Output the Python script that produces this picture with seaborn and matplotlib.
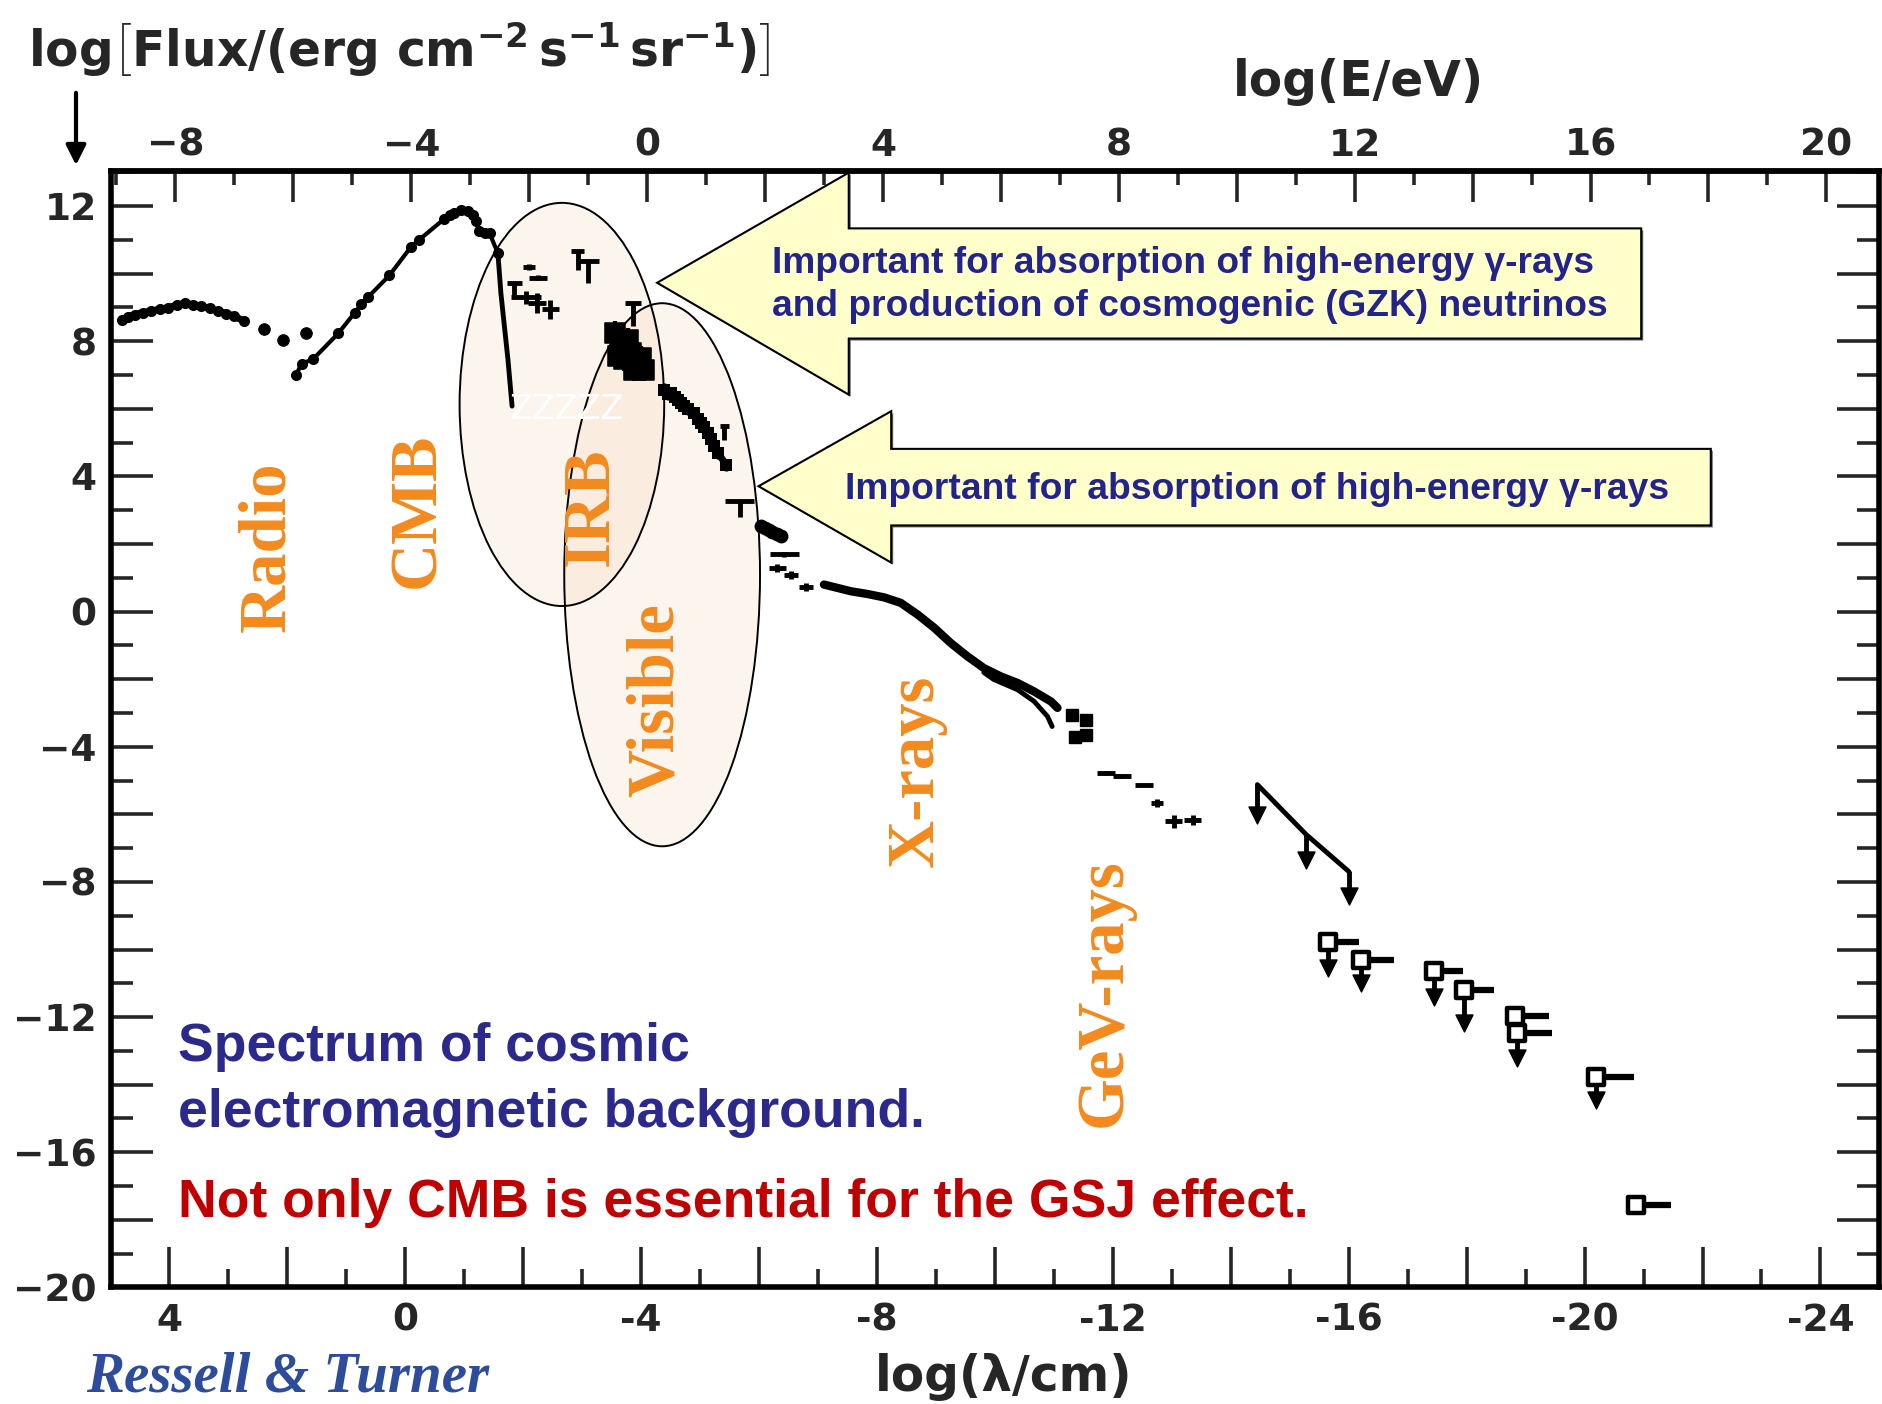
import numpy as np
import matplotlib
matplotlib.use("Agg")
import matplotlib.pyplot as plt
import matplotlib.transforms as mtransforms
from matplotlib.patches import Ellipse, Polygon
from matplotlib.ticker import MultipleLocator, FuncFormatter
import seaborn as sns

# ---------------- data: log10(lambda / cm) vs log10(flux) ----------------
radio_lam = [4.81, 4.70, 4.59, 4.45, 4.31, 4.16, 4.02, 3.88, 3.74, 3.60, 3.46, 3.32, 3.18, 3.04, 2.90, 2.73]
radio_flux = [8.63, 8.72, 8.79, 8.85, 8.89, 8.95, 8.99, 9.07, 9.12, 9.08, 9.04, 8.97, 8.89, 8.82, 8.74, 8.59]
radio_gap_lam = [2.39, 2.08, 1.68]
radio_gap_flux = [8.35, 8.03, 8.25]

cmb_lam = [1.85, 1.76, 1.57, 1.14, 0.86, 0.75, 0.63, 0.27, -0.10, -0.24, -0.66, -0.75,
           -0.83, -0.95, -1.06, -1.15, -1.20, -1.25, -1.35, -1.43, -1.57]
cmb_flux = [7.01, 7.34, 7.46, 8.23, 8.84, 9.09, 9.31, 9.95, 10.80, 11.01, 11.62, 11.75,
            11.80, 11.88, 11.85, 11.75, 11.55, 11.25, 11.20, 11.19, 10.60]
wien_lam = [-1.57, -1.62, -1.68, -1.74, -1.78, -1.81]
wien_flux = [10.60, 9.43, 8.44, 7.46, 6.67, 6.08]

# upper limits drawn as "T": bar at the limit, stem down
lim_lam = [-1.85, -2.92, -3.09, -3.86, -5.41, -5.67]
lim_top = [9.73, 10.67, 10.37, 9.14, 5.48, 3.26]
lim_bot = [9.33, 10.12, 9.73, 8.44, 5.09, 2.80]
lim_hw = [0.13, 0.11, 0.20, 0.14, 0.08, 0.25]

irb_lam = [-2.10, -2.25, -2.05, -2.23, -2.46]
irb_flux = [10.20, 9.88, 9.30, 9.14, 8.95]
irb_xerr = [0.10, 0.15, 0.25, 0.15, 0.15]
irb_yerr = [0.10, 0.08, 0.20, 0.30, 0.28]

vis_lam = [-3.55, -3.60, -3.66, -3.71, -3.77, -3.83, -3.88, -3.94, -4.00, -4.05]
vis_flux = [8.25, 7.56, 7.85, 7.46, 8.05, 7.66, 7.16, 7.36, 7.50, 7.16]

uv_lam = [-4.39, -4.45, -4.51, -4.57, -4.62, -4.68, -4.73, -4.80, -4.90, -4.96,
          -5.01, -5.07, -5.13, -5.19, -5.24, -5.30, -5.44]
uv_flux = [6.57, 6.45, 6.47, 6.35, 6.27, 6.18, 6.08, 6.00, 5.88, 5.70,
           5.58, 5.45, 5.29, 5.10, 4.89, 4.70, 4.35]

fuv_lam = [-6.03, -6.10, -6.16, -6.22, -6.30, -6.37]
fuv_flux = [2.53, 2.47, 2.42, 2.36, 2.30, 2.23]

euv_lam = [-6.43, -6.31, -6.54, -6.79]
euv_flux = [1.69, 1.29, 1.09, 0.72]
euv_xerr = [0.25, 0.15, 0.12, 0.12]
euv_yerr = [0.06, 0.12, 0.12, 0.12]

xray_lam = [-7.10, -7.33, -7.56, -7.84, -8.12, -8.40, -8.69, -8.97, -9.25, -9.53,
            -9.81, -10.10, -10.38, -10.66, -10.95, -11.06]
xray_flux = [0.80, 0.70, 0.60, 0.52, 0.42, 0.26, -0.09, -0.48, -0.93, -1.32,
             -1.67, -1.92, -2.11, -2.36, -2.66, -2.85]
xray_low_lam = [-9.81, -9.98, -10.38, -10.66, -10.89, -10.97]
xray_low_flux = [-1.80, -2.01, -2.31, -2.65, -3.10, -3.40]

hx_lam = [-11.30, -11.55, -11.35, -11.55]
hx_flux = [-3.05, -3.20, -3.70, -3.65]

gam_lam = [-11.88, -12.16, -12.53, -12.75, -13.03, -13.35]
gam_flux = [-4.78, -4.86, -5.12, -5.67, -6.21, -6.16]
gam_xerr = [0.15, 0.15, 0.15, 0.10, 0.15, 0.15]
gam_yerr = [0.05, 0.05, 0.00, 0.12, 0.20, 0.15]

gev_lam = [-14.45, -15.28, -16.00]
gev_flux = [-5.12, -6.60, -7.69]
gev_tip = [-6.01, -7.34, -8.43]

sq_lam = [-15.64, -16.21, -17.45, -17.96, -18.82, -18.85, -20.19, -20.87]
sq_flux = [-9.79, -10.30, -10.65, -11.19, -11.98, -12.47, -13.76, -17.56]
sq_tail = [-16.18, -16.77, -17.93, -18.46, -19.39, -19.45, -20.84, -21.47]
sq_tip = [-10.55, -10.99, -11.39, -12.18, np.nan, -13.21, -14.45, np.nan]

# band labels
band_names = ["Radio", "CMB", "IRB", "Visible", "X-rays", "GeV-rays"]
band_lam = [2.33, -0.21, -3.15, -4.25, -8.66, -11.85]
band_flux = [1.93, 3.00, 3.10, -2.63, -4.70, -11.29]

# highlighted regions: centre, width, height
ell_lam = [-2.655, -4.355]
ell_flux = [6.13, 1.09]
ell_w = [3.47, 3.32]
ell_h = [11.93, 16.07]

# ---------------- style ----------------
sns.set_theme(style="ticks")
plt.rcParams["font.family"] = ["DejaVu Sans"]
plt.rcParams["font.weight"] = "bold"
plt.rcParams["mathtext.fontset"] = "custom"
plt.rcParams["mathtext.rm"] = "DejaVu Sans:bold"
plt.rcParams["mathtext.it"] = "DejaVu Sans:bold"
plt.rcParams["mathtext.bf"] = "DejaVu Sans:bold"

INK = "black"
NAVY = "#23238C"
ORANGE = "#F28A1E"
SANS = ["Liberation Sans", "DejaVu Sans"]

fig = plt.figure(figsize=(18.83, 14.04), dpi=100)
ax = fig.add_axes([0.0587, 0.0830, 0.9394, 0.7955])
ax.set_facecolor("white")

# ---------------- highlighted regions ----------------
for cx, cy, w, h in zip(ell_lam, ell_flux, ell_w, ell_h):
    ax.add_patch(Ellipse((cx, cy), w, h, facecolor="#F5D9BA", alpha=0.25,
                         edgecolor="none", zorder=1))
    ax.add_patch(Ellipse((cx, cy), w, h, facecolor="none", edgecolor=INK,
                         lw=1.4, zorder=2))

# ---------------- spectrum ----------------
sns.lineplot(x=radio_lam, y=radio_flux, sort=False, estimator=None, color=INK,
             lw=5, marker="o", markersize=8, markeredgewidth=0, ax=ax, zorder=3)
sns.scatterplot(x=radio_gap_lam, y=radio_gap_flux, s=70, color=INK,
                edgecolor=INK, ax=ax, zorder=3)
sns.lineplot(x=cmb_lam, y=cmb_flux, sort=False, estimator=None, color=INK,
             lw=3, marker="o", markersize=8, markeredgewidth=0, ax=ax, zorder=3)
sns.lineplot(x=wien_lam, y=wien_flux, sort=False, estimator=None, color=INK,
             lw=3.5, ax=ax, zorder=3)

ax.errorbar(lim_lam, lim_top, xerr=lim_hw, fmt="none", ecolor=INK,
            elinewidth=3.5, capsize=0, zorder=3)
ax.vlines(lim_lam, lim_bot, lim_top, color=INK, lw=3.5, zorder=3)

ax.errorbar(irb_lam, irb_flux, xerr=irb_xerr, yerr=irb_yerr, fmt="none",
            ecolor=INK, elinewidth=3.5, capsize=0, zorder=3)

sns.scatterplot(x=vis_lam, y=vis_flux, marker="s", s=200, color=INK,
                edgecolor=INK, ax=ax, zorder=3)
ax.errorbar(vis_lam, vis_flux, yerr=0.35, fmt="none", ecolor=INK,
            elinewidth=3, capsize=0, zorder=3)

sns.lineplot(x=uv_lam, y=uv_flux, sort=False, estimator=None, color=INK,
             lw=5, marker="s", markersize=8, markeredgewidth=0, ax=ax, zorder=3)
ax.errorbar(uv_lam, uv_flux, yerr=0.18, fmt="none", ecolor=INK,
            elinewidth=2.5, capsize=0, zorder=3)

sns.lineplot(x=fuv_lam, y=fuv_flux, sort=False, estimator=None, color=INK,
             lw=7, marker="o", markersize=10, markeredgewidth=0, ax=ax, zorder=3)

ax.errorbar(euv_lam, euv_flux, xerr=euv_xerr, yerr=euv_yerr, fmt="none",
            ecolor=INK, elinewidth=3.5, capsize=0, zorder=3)

sns.lineplot(x=xray_lam, y=xray_flux, sort=False, estimator=None, color=INK,
             lw=6, ax=ax, zorder=3)
sns.lineplot(x=xray_low_lam, y=xray_low_flux, sort=False, estimator=None,
             color=INK, lw=3.5, ax=ax, zorder=3)

ax.errorbar(hx_lam, hx_flux, xerr=0.1, yerr=0.15, fmt="s", color=INK,
            markersize=9, elinewidth=3.5, capsize=0, zorder=3)

ax.errorbar(gam_lam, gam_flux, xerr=gam_xerr, yerr=gam_yerr, fmt="none",
            ecolor=INK, elinewidth=3.5, capsize=0, zorder=3)

# GeV upper-limit envelope with downward arrows
sns.lineplot(x=gev_lam, y=gev_flux, sort=False, estimator=None, color=INK,
             lw=3.5, ax=ax, zorder=3)
ax.vlines(gev_lam, gev_tip, gev_flux, color=INK, lw=3.5, zorder=3)
sns.scatterplot(x=gev_lam, y=gev_tip, marker="v", s=150, color=INK,
                edgecolor=INK, ax=ax, zorder=3)

# high-energy upper limits: open squares, energy band to the right, arrow down
sq_lam_a = np.array(sq_lam)
sq_flux_a = np.array(sq_flux)
sq_tip_a = np.array(sq_tip)
has_tip = ~np.isnan(sq_tip_a)
ax.hlines(sq_flux, sq_lam, sq_tail, color=INK, lw=4.5, zorder=3)
ax.vlines(sq_lam_a[has_tip], sq_tip_a[has_tip], sq_flux_a[has_tip], color=INK,
          lw=3.5, zorder=3)
sns.scatterplot(x=sq_lam_a[has_tip], y=sq_tip_a[has_tip], marker="v", s=150,
                color=INK, edgecolor=INK, ax=ax, zorder=3)
sns.scatterplot(x=sq_lam, y=sq_flux, marker="s", s=140, color="white",
                edgecolor=INK, linewidth=3.2, ax=ax, zorder=4)

# ---------------- axes ----------------
ax.set_xlim(5, -25)
ax.set_ylim(-20, 13.05)
ax.set_xlabel("")
ax.set_ylabel("")


def label_every4(minus):
    def fmt(v, pos):
        iv = int(round(v))
        if iv % 4 != 0:
            return ""
        s = str(iv)
        return s.replace("-", minus)
    return FuncFormatter(fmt)


for a in (ax.xaxis, ax.yaxis):
    a.set_major_locator(MultipleLocator(2))
    a.set_minor_locator(MultipleLocator(1))
ax.xaxis.set_major_formatter(label_every4("-"))
ax.yaxis.set_major_formatter(label_every4("\u2212"))

ax.tick_params(axis="x", which="major", direction="in", length=29, width=2.6,
               pad=11, labelsize=27, bottom=True, top=False)
ax.tick_params(axis="x", which="minor", direction="in", length=13, width=2.6,
               bottom=True, top=False)
ax.tick_params(axis="y", which="major", direction="in", length=30, width=2.6,
               pad=10, labelsize=27, left=True, right=True)
ax.tick_params(axis="y", which="minor", direction="in", length=16, width=2.6,
               left=True, right=True)
for sp in ax.spines.values():
    sp.set_linewidth(4)
    sp.set_color(INK)

secax = ax.secondary_xaxis("top", functions=(lambda l: -l - 4.1, lambda e: -e - 4.1))
secax.xaxis.set_major_locator(MultipleLocator(2))
secax.xaxis.set_minor_locator(MultipleLocator(1))
secax.xaxis.set_major_formatter(label_every4("\u2212"))
secax.tick_params(axis="x", which="major", direction="in", length=22, width=2.6,
                  pad=5, labelsize=27)
secax.tick_params(axis="x", which="minor", direction="in", length=10, width=2.6)
secax.spines["top"].set_linewidth(4)

# ---------------- band labels ----------------
for name, lx, ly in zip(band_names, band_lam, band_flux):
    ax.text(lx, ly, name, rotation=90, ha="center", va="center", fontsize=48,
            fontweight="bold", family=["Liberation Serif", "DejaVu Serif"],
            color=ORANGE, zorder=5)
ax.text(-2.74, 5.97, "ZZZZZ", ha="center", va="center", fontsize=24,
        fontweight="normal", color="white", zorder=5)

# ---------------- callout arrows ----------------
arrows = [
    # tip (lam, flux), head base lam, head top, head bottom, body top, body bottom, body end
    ((-4.27, 9.73), -7.52, 12.99, 6.42, 11.34, 8.08, -20.96),
    ((-5.99, 3.71), -8.24, 5.93, 1.45, 4.815, 2.55, -22.14),
]
shadow = mtransforms.offset_copy(ax.transData, fig=fig, x=2, y=-2, units="dots")
for (tip, hb, ht, hbot, bt, bb, re) in arrows:
    pts = [tip, (hb, ht), (hb, bt), (re, bt), (re, bb), (hb, bb), (hb, hbot)]
    ax.add_patch(Polygon(pts, closed=True, facecolor="#666666", edgecolor="none",
                         transform=shadow, zorder=5, clip_on=False))
    ax.add_patch(Polygon(pts, closed=True, facecolor="#FFFFCC", edgecolor=INK,
                         lw=1.5, zorder=5, clip_on=False))

ax.text(-6.22, 9.66,
        "Important for absorption of high-energy \u03b3-rays\n"
        "and production of cosmogenic (GZK) neutrinos",
        ha="left", va="center", fontsize=26.7, fontweight="bold", color=NAVY,
        family=SANS, linespacing=1.28, zorder=6)
ax.text(-7.45, 3.61, "Important for absorption of high-energy \u03b3-rays",
        ha="left", va="center", fontsize=26.8, fontweight="bold", color=NAVY,
        family=SANS, zorder=6)

# ---------------- captions ----------------
ax.text(3.86, -13.31, "Spectrum of cosmic", ha="left", va="baseline",
        fontsize=38.5, fontweight="bold", color="#2B2A8C", family=SANS, zorder=6)
ax.text(3.86, -15.24, "electromagnetic background.", ha="left", va="baseline",
        fontsize=38.5, fontweight="bold", color="#2B2A8C", family=SANS, zorder=6)
ax.text(3.86, -17.90, "Not only CMB is essential for the GSJ effect.", ha="left",
        va="baseline", fontsize=38.5, fontweight="bold", color="#C00000",
        family=SANS, zorder=6)

fig.text(28 / 1883, 1 - 67 / 1404,
         r"$\mathrm{log}\left[\mathrm{Flux/(erg\ cm^{-2}\,s^{-1}\,sr^{-1})}\right]$",
         fontsize=35, ha="left", va="baseline")
fig.text(1358 / 1883, 1 - 82 / 1404, "log(E/eV)", fontsize=35, fontweight="bold",
         ha="center", va="center")
fig.text(1004 / 1883, 1 - 1377 / 1404, "log(\u03bb/cm)", fontsize=35,
         fontweight="bold", ha="center", va="center")
fig.text(86 / 1883, 1 - 1391 / 1404, "Ressell & Turner", fontsize=41,
         fontweight="bold", style="italic", family=["Liberation Serif", "DejaVu Serif"],
         color="#2D4C9C", ha="left", va="baseline")
fig.add_artist(matplotlib.patches.FancyArrowPatch(
    (76 / 1883, 1 - 90 / 1404), (76 / 1883, 1 - 168 / 1404),
    transform=fig.transFigure, arrowstyle="-|>", mutation_scale=30,
    lw=3, color=INK))

fig.savefig("out.png", dpi=100, facecolor="white")
